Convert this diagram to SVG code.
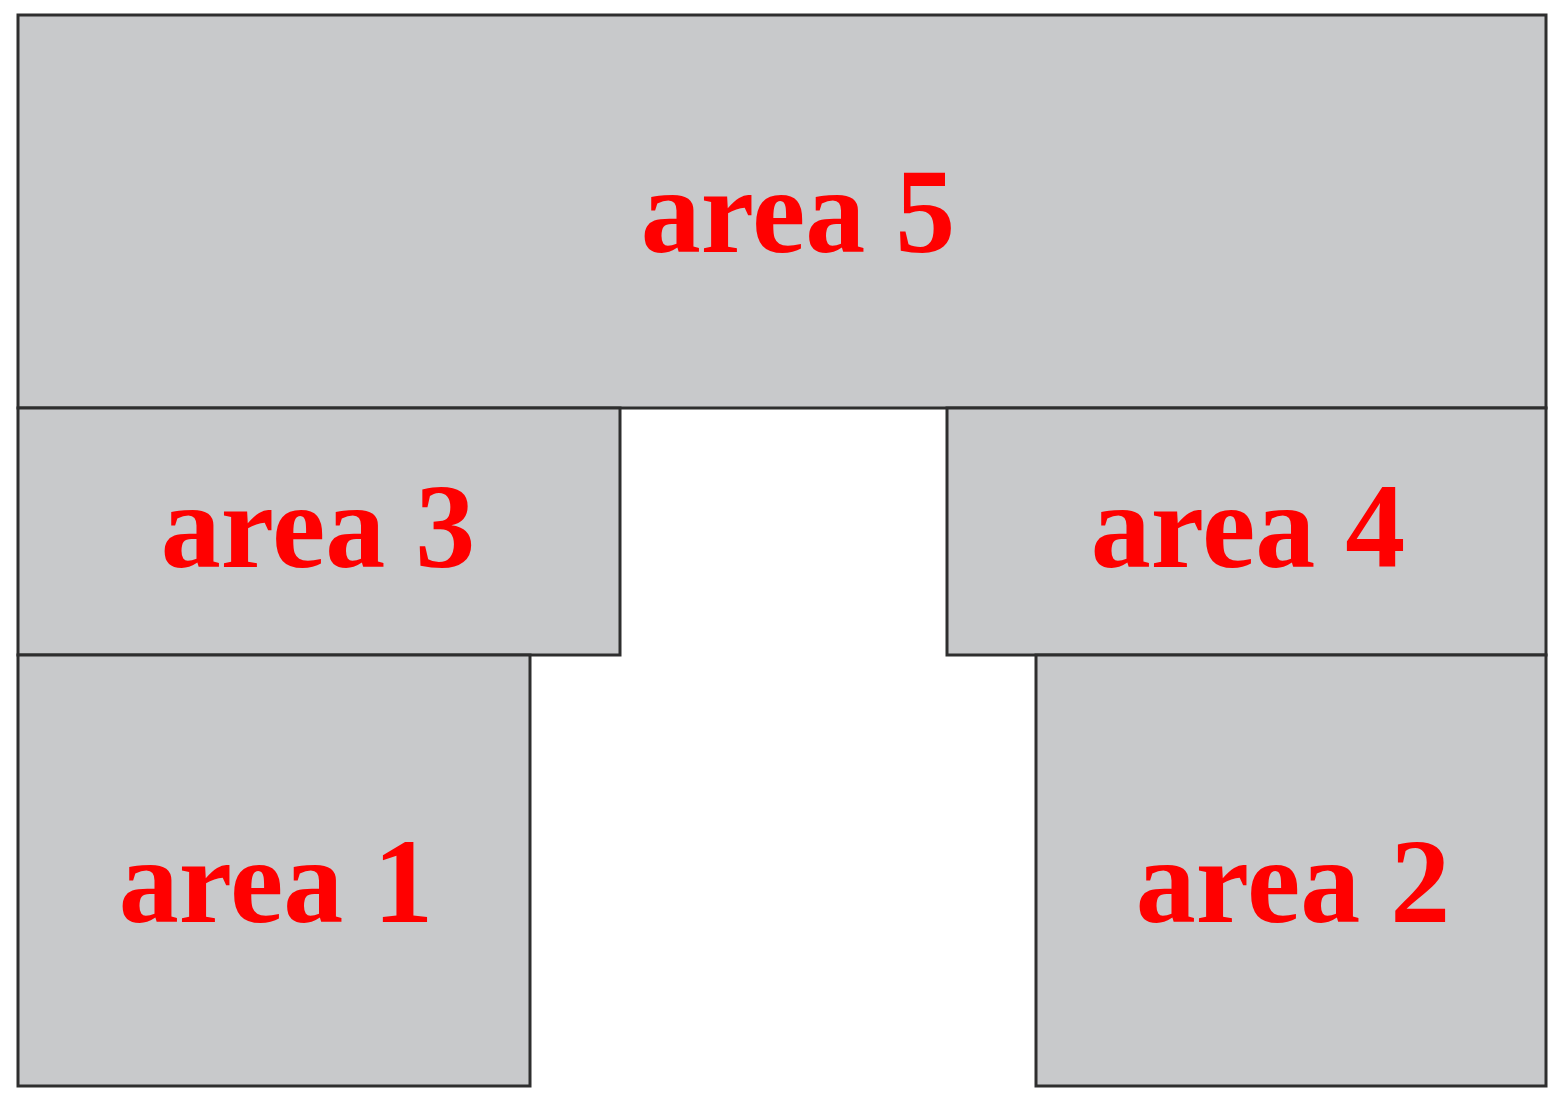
<svg xmlns="http://www.w3.org/2000/svg" width="1566" height="1108" viewBox="0 0 1566 1108">
<style>
.box{fill:#C8C9CB;stroke:#2e2e2e;stroke-width:3}
.lbl{font-family:"Liberation Serif","Times New Roman",serif;font-weight:bold;font-size:120px;fill:#FF0000;text-anchor:middle}
</style>
<rect width="1566" height="1108" fill="#fff"/>
<g id="area5"><rect class="box" x="18" y="15" width="1528" height="393"/><text class="lbl" x="798" y="252">area 5</text></g>
<g id="area3"><rect class="box" x="18" y="408" width="602" height="247"/><text class="lbl" x="318" y="567">area 3</text></g>
<g id="area4"><rect class="box" x="947" y="408" width="599" height="247"/><text class="lbl" x="1248" y="567">area 4</text></g>
<g id="area1"><rect class="box" x="18" y="655" width="512" height="431"/><text class="lbl" x="276" y="922">area 1</text></g>
<g id="area2"><rect class="box" x="1036" y="655" width="510" height="431"/><text class="lbl" x="1293" y="922">area 2</text></g>
<g id="connectors"></g>
</svg>
